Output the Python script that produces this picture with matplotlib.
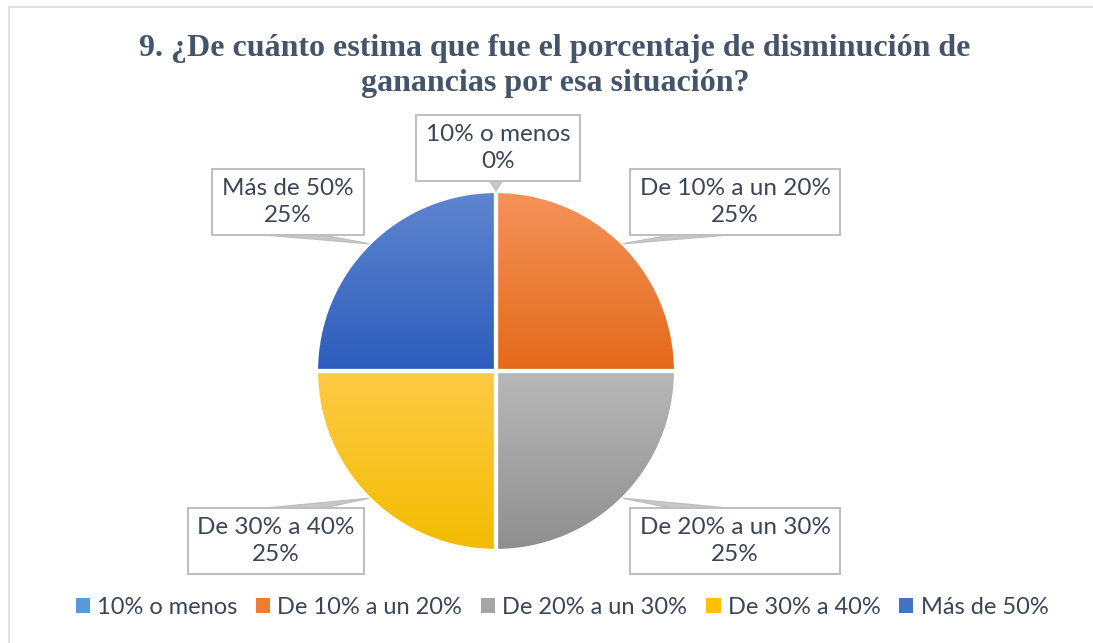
import numpy as np
import matplotlib
matplotlib.use("Agg")
import matplotlib.pyplot as plt
from matplotlib.colors import LinearSegmentedColormap
from matplotlib.patches import Polygon

categorias = ["10% o menos", "De 10% a un 20%", "De 20% a un 30%", "De 30% a 40%", "Más de 50%"]
porcentajes = [0, 25, 25, 25, 25]
etiquetas = ["0%", "25%", "25%", "25%", "25%"]
colores_arriba = ["#7AAEE0", "#F4935A", "#B8B8B8", "#FFCB45", "#5F86CF"]
colores_abajo = ["#4A8ED6", "#E4691A", "#8E8E8E", "#F2BC00", "#2C5CBD"]
colores_medio = ["#5B9BD5", "#ED7D31", "#A5A5A5", "#FFC000", "#4472C4"]

titulo = "9. ¿De cuánto estima que fue el porcentaje de disminución de\nganancias por esa situación?"
texto_color = "#3B4556"

W, H = 1093, 643
fig = plt.figure(figsize=(W / 100, H / 100), dpi=100)
ax = fig.add_axes([0, 0, 1, 1])

# marco del grafico
ax.plot([9, 9, W], [H, 7, 7], color="#E2E2E2", lw=1.5)

# eje y invertido (pixeles): startangle=-90 y counterclock=True -> arriba y sentido horario en pantalla
cx, cy, r = 496, 371, 180
wedges, _ = ax.pie(porcentajes, colors=colores_medio, startangle=-90, counterclock=True,
                   center=(cx, cy), radius=r, frame=True,
                   wedgeprops=dict(edgecolor="white", linewidth=3))
ax.set_xlim(0, W)
ax.set_ylim(H, 0)
ax.set_aspect("equal")
ax.axis("off")

# degradado vertical en cada porcion
grad = np.linspace(0, 1, 256).reshape(-1, 1)
for w, c1, c2 in zip(wedges, colores_arriba, colores_abajo):
    if w.theta2 - w.theta1 <= 0:
        continue
    bb = w.get_path().get_extents(w.get_patch_transform())
    cmap = LinearSegmentedColormap.from_list("g", [c1, c2])
    im = ax.imshow(grad, cmap=cmap, aspect="auto", extent=[bb.x0, bb.x1, bb.y1, bb.y0],
                   zorder=w.get_zorder(), interpolation="bilinear")
    im.set_clip_path(w)
    w.set_zorder(w.get_zorder() + 0.1)
    w.set_facecolor("none")

# etiquetas con llamadas
cajas = [(498, 148), (735, 202), (735, 541), (276, 541), (288, 202)]
fig.canvas.draw()
for w, cat, et, (bx, by) in zip(wedges, categorias, etiquetas, cajas):
    ang = np.deg2rad((w.theta1 + w.theta2) / 2)
    px, py = cx + r * np.cos(ang), cy + r * np.sin(ang)
    t = ax.text(bx, by, f"{cat}\n{et}", ha="center", va="center", fontsize=17.5,
                family="Lato", color=texto_color, linespacing=1.3, zorder=5,
                bbox=dict(boxstyle="square,pad=0.4", fc="white", ec="#BFBFBF", lw=1.5))
    fig.canvas.draw()
    b = t.get_bbox_patch().get_window_extent().transformed(ax.transData.inverted())
    top, bot = min(b.y0, b.y1), max(b.y0, b.y1)
    edge = bot if py > bot else top
    if abs(px - bx) < 20:
        base = [(px - 6, edge), (px + 6, edge)]
    elif px > bx:
        base = [(b.x1 - 95, edge), (b.x1 - 40, edge)]
    else:
        base = [(b.x0 + 40, edge), (b.x0 + 95, edge)]
    ax.add_patch(Polygon([(px, py)] + base, closed=True, fc="#C8C8C8", ec="#BFBFBF",
                         lw=1, zorder=4))

ax.text(555, 66, titulo, ha="center", va="center", fontsize=23, family="Liberation Serif",
        fontweight="bold", color="#44546A", linespacing=1.3)

leg = ax.legend(wedges, categorias, loc="center", bbox_to_anchor=(562 / W, 1 - 607 / H),
                bbox_transform=fig.transFigure, ncol=5, frameon=False,
                prop=dict(family="Lato", size=17), handlelength=0.6, handleheight=0.6,
                handletextpad=0.3, columnspacing=0.8, labelcolor=texto_color)
for h, c in zip(leg.legend_handles, colores_medio):
    h.set_facecolor(c)
    h.set_edgecolor("none")

fig.savefig("out.png", dpi=100)
